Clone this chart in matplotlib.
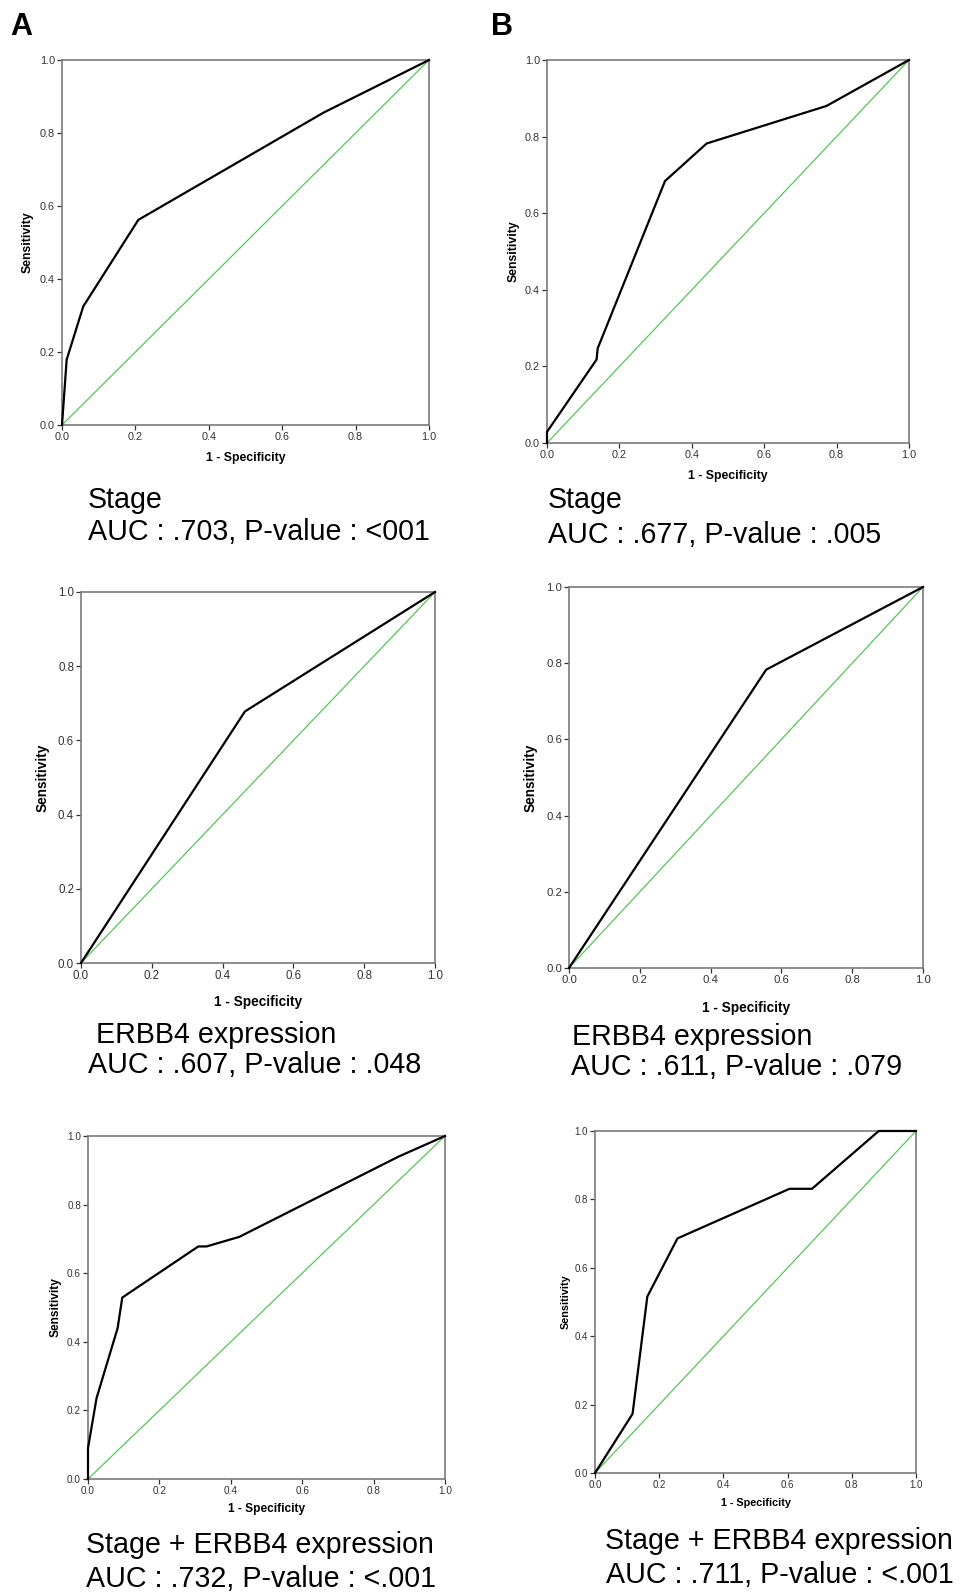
import matplotlib
matplotlib.use("Agg")
import matplotlib.pyplot as plt

plt.rcParams['font.family'] = ['Liberation Sans', 'DejaVu Sans']

W, H = 963, 1593

# ROC curve points (1 - specificity, sensitivity)
stage_a_x = [0.0, 0.0127, 0.058, 0.208, 0.713, 1.0]
stage_a_y = [0.0, 0.179, 0.325, 0.562, 0.856, 1.0]

stage_b_x = [0.0, 0.0, 0.137, 0.140, 0.326, 0.441, 0.772, 1.0]
stage_b_y = [0.0, 0.029, 0.218, 0.247, 0.684, 0.782, 0.880, 1.0]

erbb4_a_x = [0.0, 0.463, 1.0]
erbb4_a_y = [0.0, 0.678, 1.0]

erbb4_b_x = [0.0, 0.557, 1.0]
erbb4_b_y = [0.0, 0.783, 1.0]

comb_a_x = [0.0, 0.0, 0.024, 0.083, 0.096, 0.309, 0.332, 0.424, 0.87, 1.0]
comb_a_y = [0.0, 0.09, 0.236, 0.44, 0.529, 0.678, 0.678, 0.706, 0.94, 1.0]

comb_b_x = [0.0, 0.117, 0.163, 0.257, 0.606, 0.676, 0.884, 1.0]
comb_b_y = [0.0, 0.173, 0.516, 0.686, 0.831, 0.831, 1.0, 1.0]

ticks = [0.0, 0.2, 0.4, 0.6, 0.8, 1.0]
tick_labels = ['0.0', '0.2', '0.4', '0.6', '0.8', '1.0']

titles = ['Stage', 'Stage', 'ERBB4 expression', 'ERBB4 expression',
          'Stage + ERBB4 expression', 'Stage + ERBB4 expression']
stats = ['AUC : .703, P-value : <001', 'AUC : .677, P-value : .005',
         'AUC : .607, P-value : .048', 'AUC : .611, P-value : .079',
         'AUC : .732, P-value : <.001', 'AUC : .711, P-value : <.001']


def roc_panel(fig, box, xs, ys, tick_fs, lab_fs, ylab_x, xlab_y):
    # box in pixels: left, right, top, bottom
    l, r, t, b = box
    ax = fig.add_axes([l / W, 1 - b / H, (r - l) / W, (b - t) / H])
    ax.plot([0, 1], [0, 1], color='#5cc15c', lw=0.9, clip_on=False)
    ax.plot(xs, ys, color='black', lw=1.6, clip_on=False, zorder=3)
    ax.set_xlim(0, 1)
    ax.set_ylim(0, 1)
    ax.set_xticks(ticks)
    ax.set_yticks(ticks)
    ax.set_xticklabels(tick_labels)
    ax.set_yticklabels(tick_labels)
    ax.tick_params(direction='out', length=3.5, width=0.9, color='#333333',
                   labelsize=tick_fs, labelcolor='#333333', pad=1.5)
    for s in ax.spines.values():
        s.set_color('#7a7a7a')
        s.set_linewidth(1.2)
    ax.set_xlabel('1 - Specificity', fontsize=lab_fs, fontweight='bold', va='center')
    ax.set_ylabel('Sensitivity', fontsize=lab_fs, fontweight='bold', va='center')
    ax.xaxis.set_label_coords(0.5, xlab_y)
    ax.yaxis.set_label_coords(ylab_x, 0.5)
    return ax


fig = plt.figure(figsize=(W / 100, H / 100), dpi=100)

roc_panel(fig, (62, 429, 60, 425), stage_a_x, stage_a_y, 7.8, 8.8, -0.093, -0.090)
roc_panel(fig, (547, 909, 60, 443), stage_b_x, stage_b_y, 7.8, 8.8, -0.093, -0.086)
roc_panel(fig, (81, 435, 592, 963), erbb4_a_x, erbb4_a_y, 8.3, 9.8, -0.109, -0.105)
roc_panel(fig, (569, 923, 587, 968), erbb4_b_x, erbb4_b_y, 8.2, 9.8, -0.109, -0.105)
roc_panel(fig, (88, 445, 1136, 1479), comb_a_x, comb_a_y, 7.2, 8.6, -0.091, -0.088)
roc_panel(fig, (595, 916, 1131, 1473), comb_b_x, comb_b_y, 7.0, 7.8, -0.090, -0.088)

# captions: (title x, title baseline, stat x, stat baseline) in pixels
cap_pos = [(88, 508, 88, 540), (548, 508, 548, 543),
           (96, 1043, 88, 1073), (572, 1045, 571, 1075),
           (86, 1553, 86, 1587), (605, 1549, 606, 1583)]
for (tx, ty, sx, sy), ttl, st in zip(cap_pos, titles, stats):
    fig.text(tx / W, 1 - ty / H, ttl, fontsize=20.6, va='baseline', ha='left')
    fig.text(sx / W, 1 - sy / H, st, fontsize=20.6, va='baseline', ha='left')

fig.text(10 / W, 1 - 35 / H, 'A', fontsize=22, fontweight='bold', va='baseline')
fig.text(491 / W, 1 - 35 / H, 'B', fontsize=22, fontweight='bold', va='baseline')

fig.savefig('out.png', dpi=100)
